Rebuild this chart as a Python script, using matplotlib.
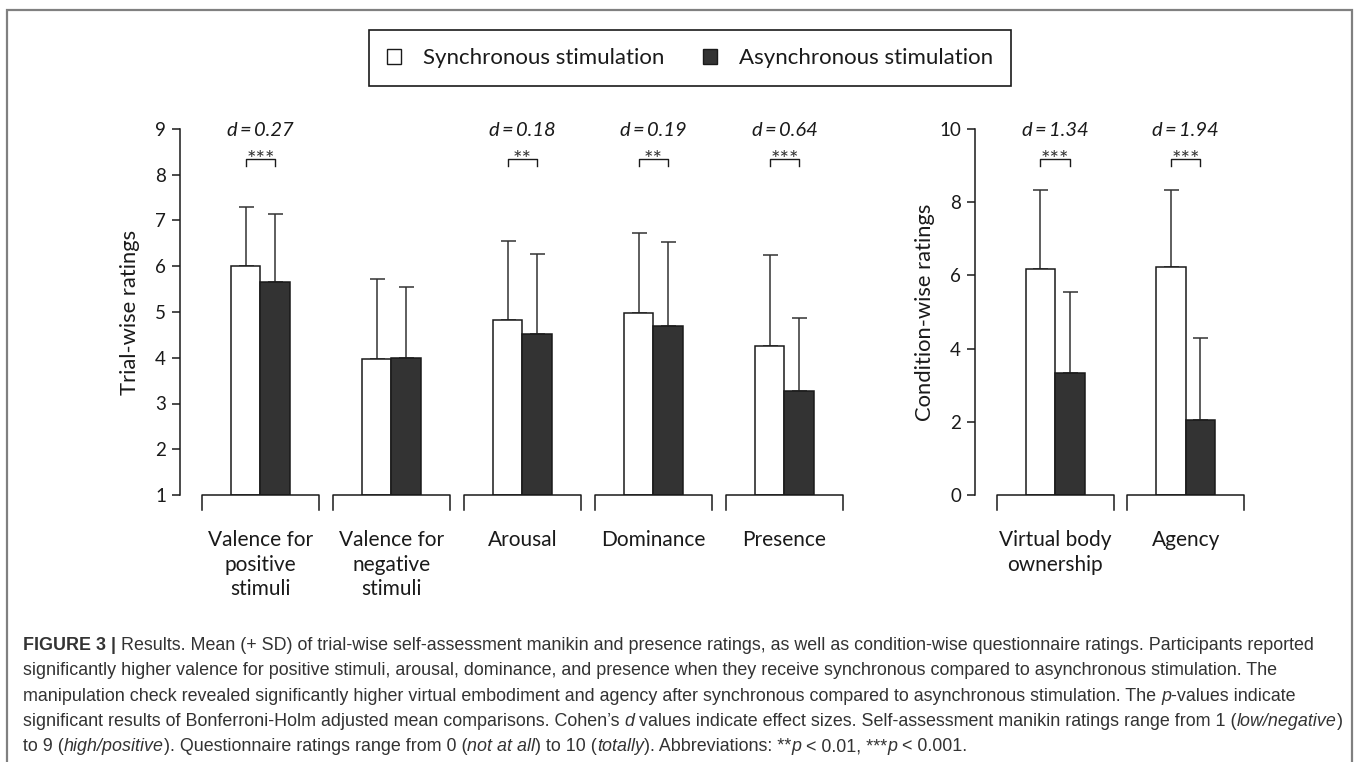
import numpy as np
import matplotlib
matplotlib.use('Agg')
import matplotlib.pyplot as plt
import matplotlib.transforms as mtransforms
from matplotlib.patches import Patch, Rectangle
from matplotlib.font_manager import FontProperties

# ---- data ----
trial_categories = ['Valence for\npositive\nstimuli', 'Valence for\nnegative\nstimuli',
                    'Arousal', 'Dominance', 'Presence']
trial_sync_mean = [6.00, 3.98, 4.82, 4.98, 4.26]
trial_sync_sd = [1.30, 1.74, 1.73, 1.75, 1.99]
trial_async_mean = [5.66, 4.00, 4.53, 4.69, 3.27]
trial_async_sd = [1.49, 1.55, 1.74, 1.83, 1.60]
trial_d = ['0.27', None, '0.18', '0.19', '0.64']
trial_stars = ['***', None, '**', '**', '***']
trial_yticks = [1, 2, 3, 4, 5, 6, 7, 8, 9]

cond_categories = ['Virtual body\nownership', 'Agency']
cond_sync_mean = [6.17, 6.22]
cond_sync_sd = [2.15, 2.10]
cond_async_mean = [3.33, 2.05]
cond_async_sd = [2.22, 2.25]
cond_d = ['1.34', '1.94']
cond_stars = ['***', '***']
cond_yticks = [0, 2, 4, 6, 8, 10]

legend_labels = ['Synchronous stimulation', 'Asynchronous stimulation']

caption_lines = [
    [('FIGURE 3 | ', 'b'),
     ('Results. Mean (+ SD) of trial-wise self-assessment manikin and presence ratings, as well as '
      'condition-wise questionnaire ratings. Participants reported', 'r')],
    [('significantly higher valence for positive stimuli, arousal, dominance, and presence when they '
      'receive synchronous compared to asynchronous stimulation. The', 'r')],
    [('manipulation check revealed significantly higher virtual embodiment and agency after synchronous '
      'compared to asynchronous stimulation. The ', 'r'), ('p', 'i'), ('-values indicate', 'r')],
    [('significant results of Bonferroni-Holm adjusted mean comparisons. Cohen\u2019s ', 'r'), ('d', 'i'),
     (' values indicate effect sizes. Self-assessment manikin ratings range from 1 (', 'r'),
     ('low/negative', 'i'), (')', 'r')],
    [('to 9 (', 'r'), ('high/positive', 'i'), ('). Questionnaire ratings range from 0 (', 'r'),
     ('not at all', 'i'), (') to 10 (', 'r'), ('totally', 'i'), ('). Abbreviations: **', 'r'),
     ('p', 'i'), (' < 0.01, ***', 'r'), ('p', 'i'), (' < 0.001.', 'r')],
]

# ---- style ----
W, H = 1358, 762
ink = '#1a1a1a'
dark = '#333333'
plt.rcParams['font.family'] = ['Lato', 'DejaVu Sans']
plt.rcParams['text.color'] = ink

fig = plt.figure(figsize=(W / 100, H / 100), dpi=100)


def fig_rect(x0, y_top, x1, y_bot):
    return [x0 / W, 1 - y_bot / H, (x1 - x0) / W, (y_bot - y_top) / H]


def draw_panel(ax, cats, s_mean, s_sd, a_mean, a_sd, d_vals, stars, yticks, ylabel, label_x):
    n = len(cats)
    x = np.arange(n)
    bw = 0.225
    ymin, ymax = yticks[0], yticks[-1]
    s_mean = np.array(s_mean)
    a_mean = np.array(a_mean)

    ax.bar(x - bw / 2, s_mean - ymin, bw, bottom=ymin, color='white', edgecolor=ink, lw=1.1, zorder=2)
    ax.bar(x + bw / 2, a_mean - ymin, bw, bottom=ymin, color=dark, edgecolor=ink, lw=1.1, zorder=2)
    ax.errorbar(x - bw / 2, s_mean, yerr=[np.zeros(n), s_sd], fmt='none', ecolor=dark,
                elinewidth=1.1, capsize=5.4, capthick=1.1, zorder=1)
    ax.errorbar(x + bw / 2, a_mean, yerr=[np.zeros(n), a_sd], fmt='none', ecolor=dark,
                elinewidth=1.1, capsize=5.4, capthick=1.1, zorder=1)

    ax.set_xlim(-0.614, n - 0.5)
    ax.set_ylim(ymin, ymax)
    for side in ['top', 'right', 'bottom']:
        ax.spines[side].set_visible(False)
    ax.spines['left'].set_linewidth(1.1)
    ax.spines['left'].set_color(ink)
    ax.set_yticks(yticks)
    ax.tick_params(axis='y', direction='out', length=6, width=1.1, pad=4, labelsize=13.5,
                   colors=ink)
    ax.set_xticks(x, cats)
    ax.tick_params(axis='x', length=0, pad=25, labelsize=15, colors=ink)
    for lbl in ax.get_xticklabels():
        lbl.set_linespacing(1.3)

    tr = ax.get_xaxis_transform()
    for i in x:
        ax.plot([i - 0.447, i - 0.447, i + 0.447, i + 0.447], [-0.041, 0, 0, -0.041],
                transform=tr, clip_on=False, color=ink, lw=1.1)
    for i in x:
        if stars[i]:
            ax.plot([i - bw / 2, i - bw / 2, i + bw / 2, i + bw / 2], [0.899, 0.918, 0.918, 0.899],
                    transform=tr, clip_on=False, color=ink, lw=1.0)
            ax.text(i, 0.899, stars[i], transform=tr, ha='center', va='baseline', fontsize=16,
                    color=dark)
        if d_vals[i]:
            ax.text(i, 0.997, 'd\u2009=\u2009' + d_vals[i], transform=tr, ha='center', va='center',
                    fontsize=14.5, style='italic')

    ax.text(label_x, 0.5, ylabel, transform=ax.transAxes, rotation=90, ha='center',
            va='center', fontsize=15.8)


ax1 = fig.add_axes(fig_rect(180, 129, 850, 495))
draw_panel(ax1, trial_categories, trial_sync_mean, trial_sync_sd, trial_async_mean, trial_async_sd,
           trial_d, trial_stars, trial_yticks, 'Trial-wise ratings', (130 - 180) / 670)

ax2 = fig.add_axes(fig_rect(975, 129, 1251, 495))
draw_panel(ax2, cond_categories, cond_sync_mean, cond_sync_sd, cond_async_mean, cond_async_sd,
           cond_d, cond_stars, cond_yticks, 'Condition-wise ratings', (925 - 975) / 276)

# legend
handles = [Patch(facecolor='white', edgecolor=ink, lw=1.0), Patch(facecolor=dark, edgecolor=ink, lw=1.0)]
leg = fig.legend(handles, legend_labels, loc='center', bbox_to_anchor=(690 / W, 1 - 58 / H), ncol=2,
                 frameon=True, fancybox=False, edgecolor=ink, framealpha=1, fontsize=16,
                 handlelength=0.65, handleheight=0.65, handletextpad=1.0, columnspacing=1.7,
                 borderpad=0.8)
leg.get_frame().set_linewidth(1.2)

# outer frame
fig.patches.append(Rectangle((7 / W, -0.05), (1352 - 7) / W, 1.05 - 10 / H, transform=fig.transFigure,
                             fill=False, edgecolor='#808080', lw=1.6))

# caption, drawn run by run so bold/italic pieces can sit inline
cap_family = ['Liberation Sans Narrow', 'Liberation Sans', 'DejaVu Sans']
renderer = fig.canvas.get_renderer()


def cap_prop(style, size):
    return FontProperties(family=cap_family, size=size,
                          weight='bold' if style == 'b' else 'normal',
                          style='italic' if style == 'i' else 'normal')


def run_width(s, prop):
    w1 = renderer.get_text_width_height_descent('x' + s + 'x', prop, ismath=False)[0]
    w0 = renderer.get_text_width_height_descent('xx', prop, ismath=False)[0]
    return w1 - w0


def line_width(line, size):
    return sum(run_width(t, cap_prop(st, size)) for t, st in line)


base = 12.0
cap_size = base * min((1320 - 23) / line_width(caption_lines[0], base),
                      (1340 - 23) / line_width(caption_lines[3], base))

ident = mtransforms.IdentityTransform()
for k, line in enumerate(caption_lines):
    x = 23.0
    baseline = 650 + k * 25.3
    for t, st in line:
        prop = cap_prop(st, cap_size)
        fig.text(x, H - baseline, t, fontproperties=prop, transform=ident, va='baseline',
                 ha='left', color='#333333')
        x += run_width(t, prop)

fig.savefig('out.png', dpi=100)
